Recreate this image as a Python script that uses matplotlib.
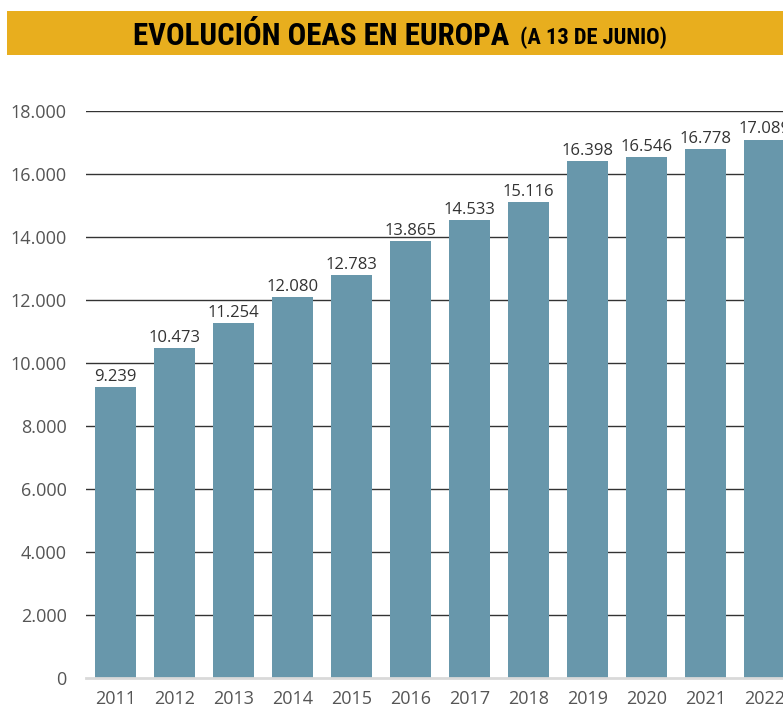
import matplotlib
matplotlib.use("Agg")
import matplotlib.pyplot as plt
from matplotlib.patches import Rectangle

years = ["2011", "2012", "2013", "2014", "2015", "2016", "2017", "2018", "2019", "2020", "2021", "2022"]
values = [9239, 10473, 11254, 12080, 12783, 13865, 14533, 15116, 16398, 16546, 16778, 17089]
yticks = [0, 2000, 4000, 6000, 8000, 10000, 12000, 14000, 16000, 18000]

def fmt(v):
    return f"{v:,}".replace(",", ".")

W, H = 783, 710
fig = plt.figure(figsize=(W / 100, H / 100), dpi=100)
fig.patch.set_facecolor("white")

# Title band
fig.patches.append(Rectangle((7 / W, 1 - 55 / H), 1 - 7 / W, 44 / H,
                             transform=fig.transFigure, facecolor="#E8AE1E",
                             edgecolor="none", zorder=0))
title_font = dict(fontweight="bold", family=["Roboto Condensed", "Roboto", "DejaVu Sans"],
                  fontstretch="condensed", color="black")
t1 = fig.text(133 / W, 1 - 33 / H, "EVOLUCIÓN OEAS EN EUROPA", ha="left", va="center_baseline",
              fontsize=24, **title_font)
t2 = fig.text(520 / W, 1 - 35 / H, "(A 13 DE JUNIO)", ha="left", va="center_baseline",
              fontsize=15, **title_font)

# fit title widths to the reference spans
fig.canvas.draw()
r = fig.canvas.get_renderer()
w1 = t1.get_window_extent(r).width
t1.set_fontsize(24 * 377 / w1)
w2 = t2.get_window_extent(r).width
t2.set_fontsize(15 * 148 / w2)

left = 86 / W
bottom = (H - 678) / H
top = (H - 111) / H
width = 12 * 59 / W
ax = fig.add_axes([left, bottom, width, top - bottom])
ax.set_facecolor("none")

x = list(range(len(years)))
ax.bar(x, values, width=0.7, color="#6897AB", zorder=2)
for xi, v in zip(x, values):
    ax.text(xi, v + 70, fmt(v), ha="center", va="bottom", fontsize=12,
            color="#333333", family="Open Sans", zorder=3, clip_on=False)

ax.set_xlim(-0.5, len(years) - 0.5)
ax.set_ylim(0, 18000)
ax.set_yticks(yticks)
ax.set_yticklabels([fmt(t) for t in yticks], family="Open Sans", fontsize=13, color="#555555")
ax.set_xticks(x)
ax.set_xticklabels(years, family="Open Sans", fontsize=13, color="#555555")
ax.tick_params(axis="both", length=0)
ax.tick_params(axis="y", pad=14)
ax.tick_params(axis="x", pad=9)

for t in yticks[1:]:
    ax.axhline(t, color="#333333", linewidth=1.0, zorder=1)
for s in ["top", "right", "left"]:
    ax.spines[s].set_visible(False)
ax.spines["bottom"].set_color("#d9d9d9")
ax.spines["bottom"].set_linewidth(2)
ax.spines["bottom"].set_zorder(3)

fig.savefig("out.png", dpi=100)
